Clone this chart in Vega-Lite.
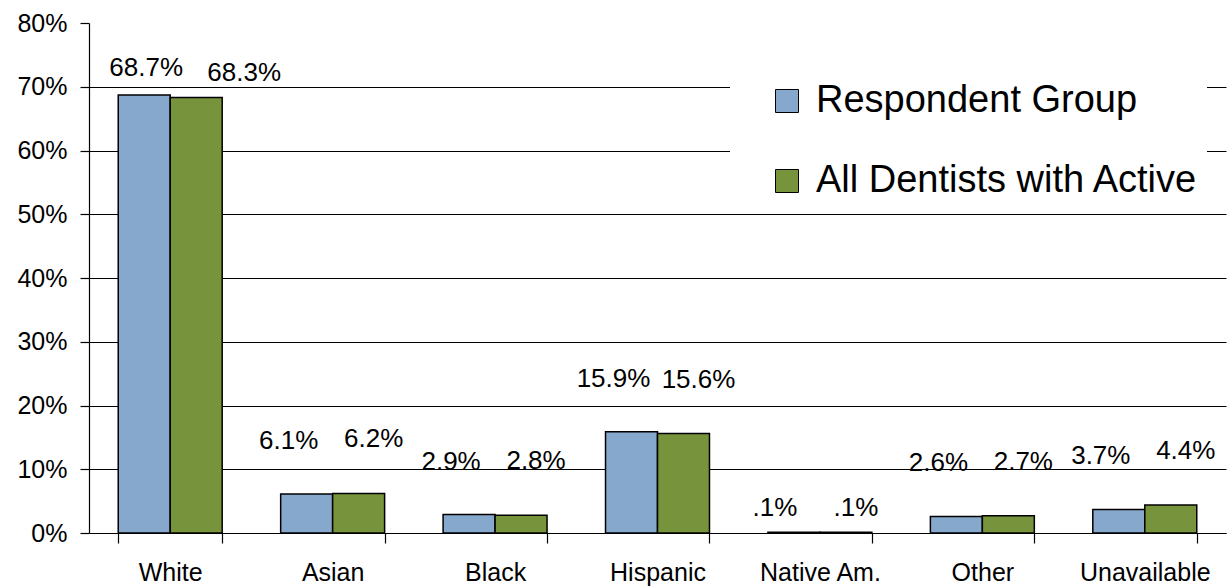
{
  "$schema": "https://vega.github.io/schema/vega-lite/v6.json",
  "width": 1137,
  "height": 510,
  "autosize": {"type": "none"},
  "padding": {"left": 89, "top": 23, "right": 2, "bottom": 54},
  "background": "white",
  "config": {
    "view": {"stroke": null},
    "font": "Liberation Sans",
    "axis": {"labelFont": "Liberation Sans", "labelColor": "black", "domainColor": "black", "tickColor": "black", "domainWidth": 1.2, "tickWidth": 1.2},
    "legend": {"labelFont": "Liberation Sans"}
  },
  "data": {
    "values": [
      {"category": "White", "series": "Respondent Group", "value": 68.7, "label": "68.7%"},
      {"category": "White", "series": "All Dentists with Active", "value": 68.3, "label": "68.3%"},
      {"category": "Asian", "series": "Respondent Group", "value": 6.1, "label": "6.1%"},
      {"category": "Asian", "series": "All Dentists with Active", "value": 6.2, "label": "6.2%"},
      {"category": "Black", "series": "Respondent Group", "value": 2.9, "label": "2.9%"},
      {"category": "Black", "series": "All Dentists with Active", "value": 2.8, "label": "2.8%"},
      {"category": "Hispanic", "series": "Respondent Group", "value": 15.9, "label": "15.9%"},
      {"category": "Hispanic", "series": "All Dentists with Active", "value": 15.6, "label": "15.6%"},
      {"category": "Native Am.", "series": "Respondent Group", "value": 0.1, "label": ".1%"},
      {"category": "Native Am.", "series": "All Dentists with Active", "value": 0.1, "label": ".1%"},
      {"category": "Other", "series": "Respondent Group", "value": 2.6, "label": "2.6%"},
      {"category": "Other", "series": "All Dentists with Active", "value": 2.7, "label": "2.7%"},
      {"category": "Unavailable", "series": "Respondent Group", "value": 3.7, "label": "3.7%"},
      {"category": "Unavailable", "series": "All Dentists with Active", "value": 4.4, "label": "4.4%"}
    ]
  },
  "encoding": {
    "x": {
      "field": "category", "type": "nominal", "sort": null,
      "scale": {"paddingInner": 0.36, "paddingOuter": 0.18},
      "axis": {"title": null, "labelAngle": 0, "tickBand": "extent", "tickSize": 10, "labelFontSize": 25, "labelPadding": 17, "grid": false}
    },
    "y": {
      "field": "value", "type": "quantitative",
      "scale": {"domain": [0, 80], "nice": false},
      "axis": {
        "title": null, "values": [0, 10, 20, 30, 40, 50, 60, 70, 80],
        "labelExpr": "datum.value + '%'", "labelFontSize": 25, "tickSize": 9, "labelPadding": 13,
        "grid": true, "gridColor": "black", "gridWidth": 1,
        "gridOpacity": {"condition": {"test": "datum.value == 80", "value": 0}, "value": 1}
      }
    },
    "xOffset": {"field": "series", "type": "nominal", "sort": ["Respondent Group", "All Dentists with Active"]}
  },
  "layer": [
    {
      "mark": {"type": "bar", "stroke": "black", "strokeWidth": 1.5},
      "encoding": {
        "color": {
          "field": "series", "type": "nominal",
          "scale": {"domain": ["Respondent Group", "All Dentists with Active"], "range": ["#86A8CD", "#77933C"]},
          "legend": {
            "orient": "none", "legendX": 641, "legendY": 51, "title": null,
            "fillColor": "white", "padding": 8, "symbolOffset": 30,
            "symbolType": "square", "symbolSize": 529, "symbolStrokeColor": "black", "symbolStrokeWidth": 1,
            "labelFontSize": 38, "labelColor": "black", "rowPadding": 42, "labelOffset": 10, "labelLimit": 0,
            "labelExpr": "datum.label + '    '"
          }
        }
      }
    },
    {
      "transform": [{"filter": "datum.category == 'White' && datum.series == 'Respondent Group'"}],
      "mark": {"type": "text", "fontSize": 26, "color": "black", "baseline": "middle", "dy": -27, "dx": 2},
      "encoding": {"text": {"field": "label"}}
    },
    {
      "transform": [{"filter": "datum.category == 'White' && datum.series != 'Respondent Group'"}],
      "mark": {"type": "text", "fontSize": 26, "color": "black", "baseline": "middle", "dy": -25, "dx": 48},
      "encoding": {"text": {"field": "label"}}
    },
    {
      "transform": [{"filter": "datum.category == 'Native Am.' && datum.series == 'Respondent Group'"}],
      "mark": {"type": "text", "fontSize": 26, "color": "black", "baseline": "middle", "dy": -24, "dx": -19},
      "encoding": {"text": {"field": "label"}}
    },
    {
      "transform": [{"filter": "datum.category == 'Native Am.' && datum.series != 'Respondent Group'"}],
      "mark": {"type": "text", "fontSize": 26, "color": "black", "baseline": "middle", "dy": -24, "dx": 10},
      "encoding": {"text": {"field": "label"}}
    },
    {
      "transform": [{"filter": "datum.category != 'White' && datum.category != 'Native Am.' && datum.series == 'Respondent Group'"}],
      "mark": {"type": "text", "fontSize": 26, "color": "black", "baseline": "middle", "dy": -53, "dx": -18},
      "encoding": {"text": {"field": "label"}}
    },
    {
      "transform": [{"filter": "datum.category != 'White' && datum.category != 'Native Am.' && datum.series != 'Respondent Group'"}],
      "mark": {"type": "text", "fontSize": 26, "color": "black", "baseline": "middle", "dy": -54, "dx": 15},
      "encoding": {"text": {"field": "label"}}
    }
  ]
}
